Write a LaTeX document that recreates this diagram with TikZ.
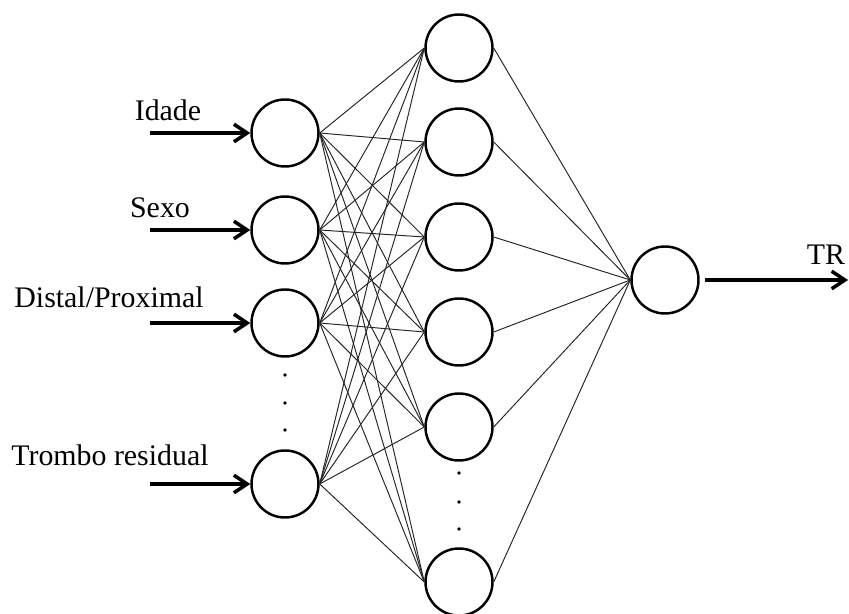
\documentclass[tikz,border=0pt]{standalone}
\usepackage{fontspec}
\setmainfont{Liberation Serif}
\usetikzlibrary{arrows.meta, positioning}

\tikzset{
  neuron/.style={draw=black, circle, line width=1.4pt,
    minimum size=1.34cm, inner sep=0pt},
  varlabel/.style={font=\fontsize{17}{20}\selectfont, inner sep=0pt},
  synapse/.style={line width=0.55pt, color=black!85},
  signal/.style={-{Straight Barb[length=7.5pt, width=10pt, line width=2pt]},
    line width=2.2pt},
  dotmark/.style={circle, fill=black, inner sep=0pt, minimum size=2.2pt}
}

\begin{document}
\begin{tikzpicture}[x=0.02cm, y=-0.02cm]
    \useasboundingbox (0,0) rectangle (849,614);

    % input layer
    \node[neuron] (i1) at (285,133) {};
    \node[neuron] (i2) at (285,230) {};
    \node[neuron] (i3) at (285,323) {};
    \node[neuron] (i4) at (285,484) {};

    % hidden layer
    \node[neuron] (h1) at (459,48) {};
    \node[neuron] (h2) at (459,142) {};
    \node[neuron] (h3) at (459,237) {};
    \node[neuron] (h4) at (459,332) {};
    \node[neuron] (h5) at (459,427) {};
    \node[neuron] (h6) at (459,582) {};

    % output layer
    \node[neuron] (o) at (665,280) {};

    % ellipsis between the last neurons of a layer
    \foreach \y [count=\k] in {375,403,430}
      \node[dotmark] (di\k) at (285,\y) {};
    \foreach \y [count=\k] in {473,502,529}
      \node[dotmark] (dh\k) at (459,\y) {};

    % weights
    \foreach \i in {1,...,4}
      \foreach \h in {1,...,6}
        \draw[synapse] (i\i.east) -- (h\h.west);
    \foreach \h in {1,...,6}
      \draw[synapse] (h\h.east) -- (o.west);

    % input variables
    \node[varlabel] (lab1) at (168,110) {Idade};
    \node[varlabel] (lab2) at (160,208) {Sexo};
    \node[varlabel] (lab3) at (109,297) {Distal/Proximal};
    \node[varlabel] (lab4) at (110,455) {Trombo residual};

    \foreach \k/\y in {1/133,2/230,3/323,4/484} {
      \coordinate (s\k) at (150,\y);
      \draw[signal] (s\k) -- (i\k.west);
    }

    % output variable
    \coordinate (tr) at (848,280);
    \draw[signal, shorten <=3pt] (o.east) -- (tr);
    \node[varlabel] (labtr) at (826,255) {TR};
\end{tikzpicture}
\end{document}
